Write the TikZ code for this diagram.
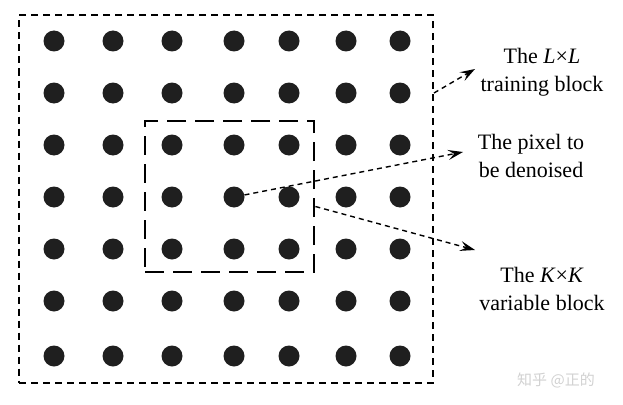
\documentclass[tikz,border=0pt]{standalone}
\usepackage{fontspec}
\setmainfont{Liberation Serif}
\newfontfamily\cjkfont{Noto Sans CJK SC}
\usetikzlibrary{arrows.meta, positioning}

\tikzset{
  dot/.style={circle, fill=black!88, minimum size=21pt, inner sep=0pt},
  outerbox/.style={draw, line width=2pt, dash pattern=on 7pt off 5pt},
  innerbox/.style={draw, line width=2.8pt, dash pattern=on 19pt off 9pt},
  pointer/.style={line width=1.4pt, dash pattern=on 5pt off 4pt,
    -{Stealth[length=15pt, width=10pt, inset=6pt]}},
  lbl/.style={align=center, font=\fontsize{22}{28}\selectfont}
}

\begin{document}
\begin{tikzpicture}[x=1pt, y=-1pt]
\useasboundingbox (0,0) rectangle (623,404);

% the grid of pixels
\foreach \r/\y in {1/41, 2/93, 3/145, 4/197, 5/249, 6/301, 7/356}
  \foreach \c/\x in {1/54, 2/113, 3/172, 4/234, 5/289, 6/346, 7/400}
    \node[dot] (d-\r-\c) at (\x,\y) {};

% the two blocks
\node[outerbox, minimum width=414pt, minimum height=367pt] (train) at (226,199) {};
\node[innerbox, minimum width=169pt, minimum height=151pt] (var) at (229.5,196.5) {};

% labels
\node[lbl] (lblL) at (542,72) {The \textit{L}×\textit{L}\\training block};
\node[lbl] (lblP) at (531,156) {The pixel to\\be denoised};
\node[lbl] (lblK) at (542,289) {The \textit{K}×\textit{K}\\variable block};

\coordinate (tipL) at (475,69);
\coordinate (tipP) at (463,152);
\coordinate (tipK) at (475,250);

\draw[pointer] (train.east |- d-2-7) -- (tipL);
\draw[pointer] (d-4-4) -- (tipP);
\draw[pointer] ([yshift=-10pt]var.east) -- (tipK);

\node[text=black!18, font=\cjkfont\fontsize{15}{18}\selectfont] (mark) at (556,380) {知乎 @正的};
\end{tikzpicture}
\end{document}
